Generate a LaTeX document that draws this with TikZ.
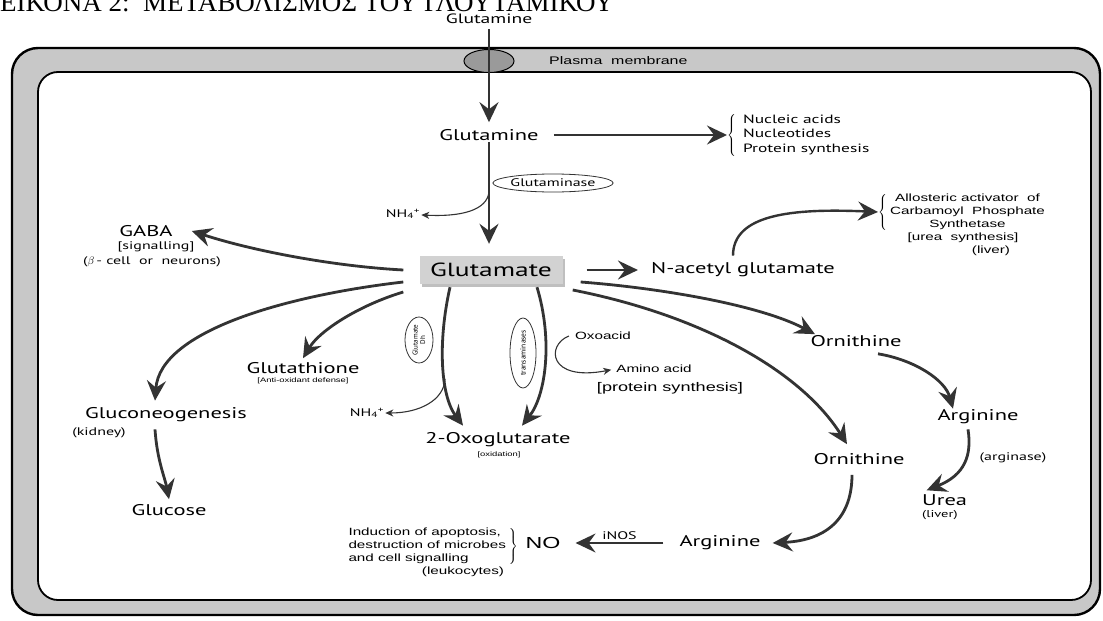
\documentclass[tikz,border=0pt]{standalone}
\usepackage{fontspec}
\setmainfont{PT Sans}[FakeStretch=1.45]
\newfontfamily\arialf{Liberation Sans}[FakeStretch=1.45]
\newfontfamily\plainf{PT Sans}
\newfontfamily\titlef{Liberation Serif}
\usepackage{tikz}
\usetikzlibrary{arrows.meta, positioning, shapes.geometric, shadows}
\definecolor{ink}{HTML}{333333}
\definecolor{membrane}{HTML}{C8C8C8}
\definecolor{boxgray}{HTML}{D2D2D2}
\definecolor{pore}{HTML}{9A9A9A}

\begin{document}
\begin{tikzpicture}[x=1pt, y=1pt,
    mol/.style={font=\fontsize{15.5}{17}\selectfont, inner sep=1pt},
    sub/.style={font=\fontsize{11}{13}\selectfont, inner sep=1pt},
    note/.style={font=\arialf\fontsize{10.5}{13}\selectfont, inner sep=1pt},
    tiny/.style={font=\arialf\fontsize{6.5}{8}\selectfont, inner sep=1pt},
    glubox/.style={fill=boxgray, minimum width=143pt, minimum height=28pt, inner sep=2pt,
        font=\fontsize{19}{21}\selectfont,
        drop shadow={shadow xshift=2.5pt, shadow yshift=-2.5pt, fill=black, opacity=0.25}},
    enz/.style={ellipse, draw=ink, line width=0.8pt, inner sep=0pt, font=\plainf\fontsize{7.5}{8}\selectfont, align=center},
    flow/.style={draw=ink, line width=2.8pt, -{Stealth[length=20pt, width=19pt, inset=7pt]}},
    side/.style={draw=ink, line width=1.1pt, -{Stealth[length=8pt, width=7pt, inset=2.5pt]}}]
    \useasboundingbox (0,-621) rectangle (1103,0);

    \filldraw[fill=membrane, draw=black, line width=2.4pt, rounded corners=26pt] (12,-48) rectangle (1100,-615);
    \filldraw[fill=white, draw=black, line width=1.8pt, rounded corners=20pt] (38,-72) rectangle (1091,-600);
    \node[ellipse, draw=black, fill=pore, line width=1pt, minimum width=50pt, minimum height=23pt] (channel) at (489,-61) {};
    \node[note, anchor=west, font=\arialf\fontsize{11}{13}\selectfont] (plasma) at (548,-61) {Plasma\ \ membrane};
    \node[anchor=base west, inner sep=0pt, font=\titlef\fontsize{27}{27}\selectfont] (title) at (0,-12) {ΕΙΚΟΝΑ 2:\ \ ΜΕΤΑΒΟΛΙΣΜΟΣ ΤΟΥ ΓΛΟΥΤΑΜΙΚΟΥ};

    \node[mol, font=\fontsize{13.5}{15}\selectfont] (glnout) at (489,-19) {Glutamine};
    \node[mol] (gln) at (489,-135) {Glutamine};
    \node[glubox] (glu) at (491,-270) {Glutamate};
    \node[mol] (nag) at (743,-270) {N-acetyl glutamate};
    \node[anchor=west, font=\fontsize{12}{14.5}\selectfont, inner sep=0pt] (nucl) at (727,-135)
        {$\left\{\begin{tabular}{@{\hspace{7pt}}l@{}}Nucleic acids\\ Nucleotides\\ Protein synthesis\end{tabular}\right.$};
    \node[enz, minimum width=118pt, minimum height=18pt, font=\fontsize{11}{12}\selectfont] (gase) at (553,-183) {Glutaminase};
    \node[sub] (nh4a) at (403,-214) {NH\textsubscript{4}\textsuperscript{+}};
    \node[note, anchor=west, inner sep=0pt] (allo) at (878,-212)
        {$\left\{\begin{tabular}{@{\hspace{3pt}}c@{}}Allosteric activator\ \ of\\ Carbamoyl\ \ Phosphate\\ Synthetase\end{tabular}\right.$};
    \node[note] (ureasyn) at (963,-238) {[urea\ \ synthesis]};
    \node[note] (liver1) at (991,-251) {(liver)};

    \node[mol] (gaba) at (146,-231) {GABA};
    \node[sub] (gabasig) at (156,-247) {[signalling]};
    \node[sub] (gabacell) at (152,-262) {($\beta$\,-\ cell\ \ or\ \ neurons)};
    \node[mol] (glutath) at (303,-368) {Glutathione};
    \node[tiny] (antiox) at (303,-381) {[Anti-oxidant defense]};
    \node[mol] (glucon) at (166,-415) {Gluconeogenesis};
    \node[sub] (kidney) at (99,-433) {(kidney)};
    \node[mol] (glucose) at (169,-510) {Glucose};

    \node[enz, rotate=90, minimum width=46pt, minimum height=28pt, font=\plainf\fontsize{7}{7.5}\selectfont] (gdh) at (419,-340) {Glutamate\\Dh};
    \node[enz, rotate=90, minimum width=70pt, minimum height=26pt] (tam) at (523,-353) {transaminases};
    \node[sub] (nh4b) at (367,-413) {NH\textsubscript{4}\textsuperscript{+}};
    \node[mol] (oxog) at (498,-440) {2-Oxoglutarate};
    \node[tiny] (oxid) at (499,-455) {[oxidation]};
    \node[note] (oxoacid) at (603,-336) {Oxoacid};
    \node[note] (amino) at (654,-369) {Amino acid};
    \node[note, font=\arialf\fontsize{12.5}{14}\selectfont] (protsyn) at (670,-388) {[protein synthesis]};

    \node[mol] (orn1) at (856,-341) {Ornithine};
    \node[mol] (arg1) at (978,-417) {Arginine};
    \node[sub] (arginase) at (1013,-458) {(arginase)};
    \node[mol, anchor=west] (urea) at (921,-500) {Urea};
    \node[sub, anchor=west, font=\fontsize{10}{12}\selectfont] (liver2) at (921,-515) {(liver)};
    \node[mol] (orn2) at (859,-459) {Ornithine};
    \node[mol] (arg2) at (720,-543) {Arginine};
    \node[font=\arialf\fontsize{16}{18}\selectfont, inner sep=1pt] (no) at (543,-543) {NO};
    \node[note, anchor=east, inner sep=0pt] (nodesc) at (518,-546)
        {$\left.\begin{tabular}{@{}l@{\hspace{3pt}}}Induction of apoptosis,\\ destruction of microbes\\ and cell signalling\end{tabular}\right\}$};
    \node[note] (leuk) at (463,-572) {(leukocytes)};

    \draw[flow, line width=2.4pt, shorten <=4pt, shorten >=6pt] (glnout) -- (gln);
    \draw[flow, line width=2.4pt] ([xshift=14pt]gln.east) -- (nucl.west);
    \draw[flow, shorten >=12pt] (gln.south) -- (gln.south |- glu.north) coordinate[pos=0.44] (fork1);
    \draw[side] (fork1) .. controls (487,-210) and (462,-217) .. (nh4a);
    \draw[flow, line width=2.4pt] ([xshift=24pt]glu.east) -- ([xshift=-12pt]nag.west);
    \draw[flow, line width=2.4pt] ([xshift=-10pt,yshift=6pt]nag.north) .. controls (733,-215) and (790,-208) .. (allo.west);

    \draw[flow] ([xshift=-16pt]glu.west) .. controls (330,-266) and (250,-250) .. ([xshift=18pt]gaba.east);
    \draw[flow] ([xshift=-16pt,yshift=-12pt]glu.west) .. controls (290,-295) and (160,-330) .. ([xshift=-11pt,yshift=6pt]glucon.north);
    \draw[flow] ([xshift=-16pt,yshift=-22pt]glu.west) .. controls (360,-305) and (320,-330) .. ([yshift=3pt]glutath.north);
    \draw[flow] ([xshift=-11pt,yshift=-6pt]glucon.south) .. controls (157,-460) and (165,-478) .. ([yshift=4pt]glucose.north);

    \draw[flow] ([xshift=-41pt,yshift=-3pt]glu.south) .. controls (438,-340) and (440,-395) .. ([xshift=-35pt,yshift=6pt]oxog.north) coordinate[pos=0.6] (fork2);
    \draw[side] (fork2) .. controls (444,-400) and (420,-413) .. (nh4b);
    \draw[flow] ([xshift=46pt,yshift=-3pt]glu.south) .. controls (553,-340) and (546,-395) .. ([xshift=24pt,yshift=6pt]oxog.north);
    \draw[side, shorten >=4pt] ([xshift=-5pt]oxoacid.west) .. controls (546,-345) and (548,-382) .. (amino.west);

    \draw[flow] ([xshift=18pt,yshift=-12pt]glu.east) .. controls (660,-288) and (760,-305) .. ([xshift=-41pt]orn1.north);
    \draw[flow] ([xshift=10pt,yshift=-20pt]glu.east) .. controls (700,-315) and (800,-370) .. ([xshift=-12pt,yshift=8pt]orn2.north);
    \draw[flow] ([xshift=22pt,yshift=-6pt]orn1.south) .. controls (915,-360) and (945,-380) .. ([xshift=-25pt]arg1.north);
    \draw[flow] ([xshift=-10pt,yshift=-4pt]arg1.south) .. controls (972,-455) and (965,-475) .. ([xshift=-18pt,yshift=3pt]urea.north);
    \draw[flow] ([xshift=-7pt,yshift=-9pt]orn2.south) .. controls (852,-515) and (830,-540) .. ([xshift=11pt]arg2.east);
    \draw[flow, line width=1.8pt] ([xshift=-15pt]arg2.west) -- node[above, sub, yshift=1pt] (inos) {iNOS} ([xshift=14pt]no.east);
\end{tikzpicture}
\end{document}
